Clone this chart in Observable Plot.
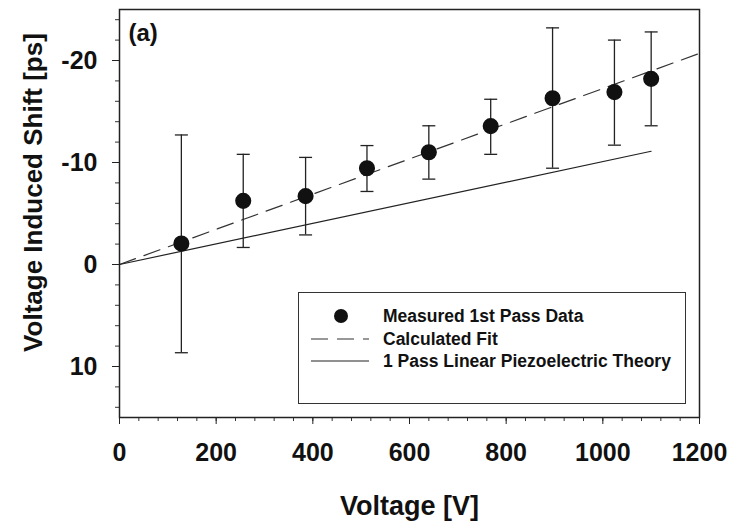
<!DOCTYPE html>
<html>
<head>
<meta charset="utf-8">
<script src="https://cdn.jsdelivr.net/npm/d3@7"></script>
<script src="https://cdn.jsdelivr.net/npm/@observablehq/plot@0.6"></script>
<style>
  html, body { margin: 0; padding: 0; background: #fff; }
  #wrap { position: relative; width: 735px; height: 525px; font-family: "Liberation Sans", Arial, sans-serif; }
  #legend { position: absolute; left: 298px; top: 292px; width: 386px; height: 110px; border: 1.5px solid #333; background: #fff; }
  .row { position: absolute; left: 0; height: 22px; display: flex; align-items: center; }
  .row svg { width: 76px; height: 22px; }
  .row span { font-weight: bold; font-size: 17.5px; color: #111; margin-left: 8px; white-space: nowrap; }
</style>
</head>
<body>
<div id="wrap"></div>
<script>
// ---- data ----
const voltage   = [128, 256, 385, 512, 640, 768, 896, 1024, 1100];
const shift     = [-2.06, -6.24, -6.7, -9.43, -11.0, -13.57, -16.3, -16.9, -18.2];
const errTop    = [-12.7, -10.8, -10.5, -11.66, -13.6, -16.2, -23.2, -22.0, -22.8];
const errBottom = [8.65, -1.67, -2.9, -7.16, -8.37, -10.8, -9.44, -11.7, -13.6];
const fitX      = [0, 1200];
const fitY      = [0, -20.7];
const theoryX   = [0, 1100];
const theoryY   = [0, -11.1];
const xTicks    = [0, 200, 400, 600, 800, 1000, 1200];
const yTicks    = [-20, -10, 0, 10];
const legendLabels = ["Measured 1st Pass Data", "Calculated Fit", "1 Pass Linear Piezoelectric Theory"];

const points = voltage.map((v, i) => ({x: v, y: shift[i], hi: errTop[i], lo: errBottom[i]}));
const fit = fitX.map((x, i) => ({x, y: fitY[i]}));
const theory = theoryX.map((x, i) => ({x, y: theoryY[i]}));

const capSymbol = {draw(ctx, size) { const w = Math.sqrt(size / Math.PI); ctx.moveTo(-w, 0); ctx.lineTo(w, 0); }};
const font = "'Liberation Sans', Arial, sans-serif";

const chart = Plot.plot({
  width: 735, height: 525,
  marginLeft: 119, marginRight: 36, marginTop: 9, marginBottom: 108,
  style: {fontFamily: font, background: "#fff", color: "#111"},
  x: {domain: [0, 1200]},
  y: {domain: [15, -25]},
  marks: [
    Plot.axisX(d3.range(0, 1201, 40), {tickSize: 4, text: null, label: null, stroke: "#333"}),
    Plot.axisY(d3.range(-24, 15, 2), {tickSize: 4, text: null, label: null, stroke: "#333"}),
    Plot.axisX(xTicks, {tickSize: 7, tickPadding: 19, tickFormat: d => String(d), fontSize: 25, fontWeight: "bold", label: null, stroke: "#222"}),
    Plot.axisY(yTicks, {tickSize: 7, tickPadding: 15, tickFormat: d => String(d), fontSize: 25, fontWeight: "bold", label: null, stroke: "#222"}),
    Plot.line(fit, {x: "x", y: "y", stroke: "#333", strokeWidth: 1.2, strokeDasharray: "17,9"}),
    Plot.line(theory, {x: "x", y: "y", stroke: "#222", strokeWidth: 1.2}),
    Plot.ruleX(points, {x: "x", y1: "lo", y2: "hi", stroke: "#222", strokeWidth: 1.3}),
    Plot.dot(points, {x: "x", y: "hi", symbol: capSymbol, r: 6.5, stroke: "#222", strokeWidth: 1.3, fill: "none"}),
    Plot.dot(points, {x: "x", y: "lo", symbol: capSymbol, r: 6.5, stroke: "#222", strokeWidth: 1.3, fill: "none"}),
    Plot.dot(points, {x: "x", y: "y", r: 7.3, fill: "#111", stroke: "#111"}),
    Plot.frame({stroke: "#222", strokeWidth: 1.5}),
    Plot.text(["(a)"], {frameAnchor: "top-left", dx: 9, dy: 24, textAnchor: "start", lineAnchor: "middle", fontSize: 24, fontWeight: "bold", fill: "#111"}),
    Plot.text(["Voltage Induced Shift [ps]"], {frameAnchor: "left", dx: -86, dy: -21, rotate: -90, textAnchor: "middle", fontSize: 26, fontWeight: "bold", fill: "#111", lineAnchor: "middle"}),
    Plot.text(["Voltage [V]"], {frameAnchor: "bottom", dy: 89, fontSize: 27, fontWeight: "bold", fill: "#111", lineAnchor: "middle"})
  ]
});

const wrap = document.getElementById("wrap");
wrap.appendChild(chart);

// legend overlay
const legend = document.createElement("div");
legend.id = "legend";
const icons = [
  '<svg viewBox="0 0 76 22"><circle cx="42" cy="11" r="7" fill="#111"/></svg>',
  '<svg viewBox="0 0 76 22"><line x1="12" y1="11" x2="70" y2="11" stroke="#333" stroke-width="1.2" stroke-dasharray="17,9"/></svg>',
  '<svg viewBox="0 0 76 22"><line x1="12" y1="11" x2="70" y2="11" stroke="#222" stroke-width="1.2"/></svg>'
];
const rowTops = [12, 35, 57];
legendLabels.forEach((lab, i) => {
  const row = document.createElement("div");
  row.className = "row";
  row.style.top = rowTops[i] + "px";
  row.innerHTML = icons[i] + "<span>" + lab + "</span>";
  legend.appendChild(row);
});
wrap.appendChild(legend);
</script>
</body>
</html>
